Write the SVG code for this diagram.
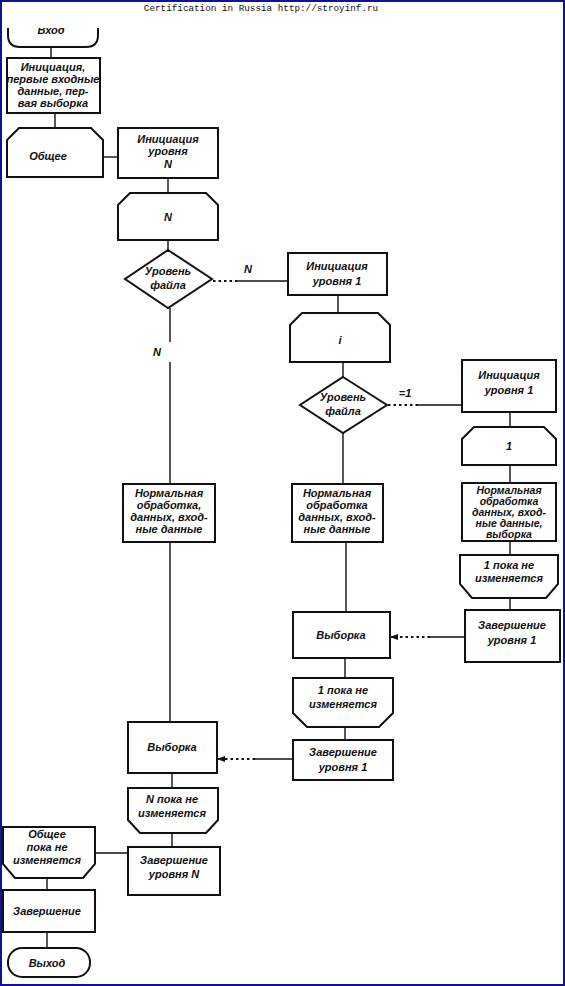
<svg xmlns="http://www.w3.org/2000/svg" width="565" height="986" viewBox="0 0 565 986">
<defs>
<style>
.s{fill:#fff;stroke:#111;stroke-width:2}
.c{fill:none;stroke:#111;stroke-width:1.4}
.d{fill:none;stroke:#111;stroke-width:2.2;stroke-dasharray:2.5 3}
.t{font-family:"Liberation Sans",Arial,sans-serif;font-style:italic;font-weight:bold;font-size:11px;fill:#111;text-anchor:middle}
.h{font-family:"Liberation Mono","DejaVu Sans Mono",monospace;font-size:9.3px;fill:#111;text-anchor:middle}
</style>
<marker id="ah" markerWidth="8" markerHeight="8" refX="7" refY="4" orient="auto" markerUnits="userSpaceOnUse">
<path d="M0,1 L8,4 L0,7 Z" fill="#111"/>
</marker>
<clipPath id="topclip"><rect x="0" y="28" width="565" height="40"/></clipPath>
</defs>
<rect x="0" y="0" width="565" height="986" fill="#fff"/>
<rect x="1" y="1" width="563" height="984" fill="none" stroke="#10109a" stroke-width="2"/>
<text class="h" x="261" y="11">Certification in Russia http://stroyinf.ru</text>

<g id="connectors">
<path class="c" d="M51,47 V58"/>
<path class="c" d="M55,113 V128"/>
<path class="c" d="M103,157 H118"/>
<path class="c" d="M168,178 V193"/>
<path class="c" d="M168,240 V250"/>
<path class="d" d="M213,281 H237"/>
<path class="c" d="M237,281 H288"/>
<path class="c" d="M338,295 V313"/>
<path class="c" d="M343,362 V377"/>
<path class="d" d="M388,405 H418"/>
<path class="c" d="M418,405 H462"/>
<path class="c" d="M510,412 V427"/>
<path class="c" d="M510,465 V483"/>
<path class="c" d="M510,541 V555"/>
<path class="c" d="M510,598 V610"/>
<path class="c" d="M465,637 H430"/>
<path class="d" d="M430,637 H398"/>
<path class="c" d="M398,637 H391" marker-end="url(#ah)"/>
<path class="c" d="M343,433 V484"/>
<path class="c" d="M346,542 V612"/>
<path class="c" d="M345,658 V678"/>
<path class="c" d="M345,727 V740"/>
<path class="c" d="M293,759 H255"/>
<path class="d" d="M255,759 H225"/>
<path class="c" d="M225,759 H218" marker-end="url(#ah)"/>
<path class="c" d="M170,308 V342 M170,362 V484"/>
<path class="c" d="M170,542 V722"/>
<path class="c" d="M172,773 V788"/>
<path class="c" d="M172,833 V847"/>
<path class="c" d="M95,853 H128"/>
<path class="c" d="M47,878 V890"/>
<path class="c" d="M47,932 V948"/>
<text class="t" x="248" y="273">N</text>
<text class="t" x="157" y="356">N</text>
<text class="t" x="405" y="397">=1</text>
</g>

<g id="start">
<g clip-path="url(#topclip)">
<path class="s" d="M8,20 V35 Q8,47 20,47 H86 Q98,47 98,35 V20"/>
<text class="t" x="51" y="34">Вход</text>
</g>
</g>

<g id="init">
<rect class="s" x="7" y="58" width="93" height="55"/>
<text class="t" x="53" y="71">Инициация,</text>
<text class="t" x="53" y="83">первые входные</text>
<text class="t" x="53" y="95">данные, пер-</text>
<text class="t" x="53" y="107">вая выборка</text>
</g>

<g id="common">
<path class="s" d="M7,140 L19,128 H91 L103,140 V177 H7 Z"/>
<text class="t" x="48" y="160">Общее</text>
</g>

<g id="initN">
<rect class="s" x="118" y="128" width="100" height="50"/>
<text class="t" x="168" y="143">Инициация</text>
<text class="t" x="168" y="155">уровня</text>
<text class="t" x="168" y="168">N</text>
</g>

<g id="loopN">
<path class="s" d="M118,205 L130,193 H206 L218,205 V240 H118 Z"/>
<text class="t" x="168" y="221">N</text>
</g>

<g id="decision1">
<path class="s" d="M168,250 L212,279 L168,308 L125,279 Z"/>
<text class="t" x="168" y="275">Уровень</text>
<text class="t" x="168" y="289">файла</text>
</g>

<g id="init1">
<rect class="s" x="288" y="253" width="99" height="42"/>
<text class="t" x="337" y="270">Инициация</text>
<text class="t" x="337" y="285">уровня 1</text>
</g>

<g id="loopi">
<path class="s" d="M290,325 L302,313 H378 L390,325 V362 H290 Z"/>
<text class="t" x="340" y="344">i</text>
</g>

<g id="decision2">
<path class="s" d="M343,377 L387,405 L343,433 L300,405 Z"/>
<text class="t" x="343" y="401">Уровень</text>
<text class="t" x="343" y="415">файла</text>
</g>

<g id="init1r">
<rect class="s" x="462" y="360" width="94" height="52"/>
<text class="t" x="509" y="379">Инициация</text>
<text class="t" x="509" y="394">уровня 1</text>
</g>

<g id="loop1r">
<path class="s" d="M462,439 L474,427 H544 L556,439 V465 H462 Z"/>
<text class="t" x="509" y="450">1</text>
</g>

<g id="normR">
<rect class="s" x="462" y="483" width="94" height="58"/>
<text class="t" x="509" y="494" style="font-size:10.5px">Нормальная</text>
<text class="t" x="509" y="505" style="font-size:10.5px">обработка</text>
<text class="t" x="509" y="516" style="font-size:10.5px">данных, вход-</text>
<text class="t" x="509" y="527" style="font-size:10.5px">ные данные,</text>
<text class="t" x="509" y="538" style="font-size:10.5px">выборка</text>
</g>

<g id="endloop1r">
<path class="s" d="M460,555 H558 V584 L546,598 H472 L460,584 Z"/>
<text class="t" x="509" y="569">1 пока не</text>
<text class="t" x="509" y="582">изменяется</text>
</g>

<g id="fin1r">
<rect class="s" x="465" y="610" width="95" height="52"/>
<text class="t" x="512" y="629">Завершение</text>
<text class="t" x="512" y="644">уровня 1</text>
</g>

<g id="normM">
<rect class="s" x="292" y="484" width="91" height="58"/>
<text class="t" x="337" y="497">Нормальная</text>
<text class="t" x="337" y="509">обработка</text>
<text class="t" x="337" y="521">данных, вход-</text>
<text class="t" x="337" y="533">ные данные</text>
</g>

<g id="selM">
<rect class="s" x="293" y="612" width="97" height="46"/>
<text class="t" x="341" y="639">Выборка</text>
</g>

<g id="endloop1m">
<path class="s" d="M293,678 H393 V713 L379,727 H307 L293,713 Z"/>
<text class="t" x="343" y="694">1 пока не</text>
<text class="t" x="343" y="708">изменяется</text>
</g>

<g id="fin1m">
<rect class="s" x="293" y="740" width="100" height="40"/>
<text class="t" x="343" y="756">Завершение</text>
<text class="t" x="343" y="771">уровня 1</text>
</g>

<g id="normL">
<rect class="s" x="123" y="484" width="92" height="58"/>
<text class="t" x="169" y="497">Нормальная</text>
<text class="t" x="169" y="509">обработка,</text>
<text class="t" x="169" y="521">данных, вход-</text>
<text class="t" x="169" y="533">ные данные</text>
</g>

<g id="selL">
<rect class="s" x="128" y="722" width="89" height="51"/>
<text class="t" x="172" y="751">Выборка</text>
</g>

<g id="endloopN">
<path class="s" d="M128,788 H218 V820 L206,833 H140 L128,820 Z"/>
<text class="t" x="172" y="803">N пока не</text>
<text class="t" x="172" y="817">изменяется</text>
</g>

<g id="finN">
<rect class="s" x="128" y="847" width="92" height="48"/>
<text class="t" x="174" y="864">Завершение</text>
<text class="t" x="174" y="878">уровня N</text>
</g>

<g id="endcommon">
<path class="s" d="M3,827 H95 V864 L83,878 H15 L3,864 Z"/>
<text class="t" x="47" y="838">Общее</text>
<text class="t" x="47" y="851">пока не</text>
<text class="t" x="47" y="864">изменяется</text>
</g>

<g id="fin">
<rect class="s" x="3" y="890" width="92" height="42"/>
<text class="t" x="47" y="915">Завершение</text>
</g>

<g id="exit">
<rect class="s" x="8" y="948" width="82" height="29" rx="14" ry="14"/>
<text class="t" x="47" y="967">Выход</text>
</g>
</svg>
